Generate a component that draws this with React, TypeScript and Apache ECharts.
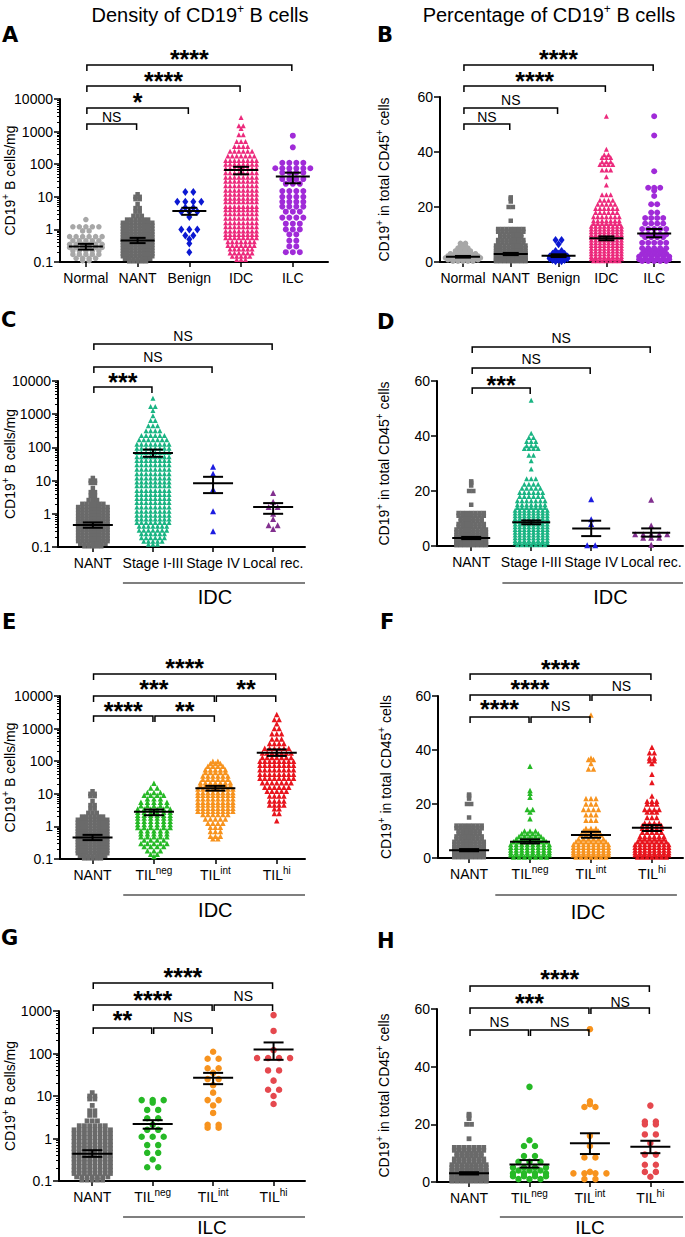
import React, { useEffect, useRef } from "react";
import * as echarts from "echarts";

type Row = [number, number]; // [value, number of dots in that row]

// ---------- categories ----------
const catsTissue = ["Normal", "NANT", "Benign", "IDC", "ILC"];
const catsStage = ["NANT", "Stage I-III", "Stage IV", "Local rec."];
const catsTil = ["NANT", "TIL{s|neg}", "TIL{s|int}", "TIL{s|hi}"];
const pctTicks = [0, 20, 40, 60];

// ---------- density (cells/mg, log) ----------
const normalDensity: Row[] = [[2.0,1],[1.2,5],[0.9,2],[0.6,6],[0.45,5],[0.35,6],[0.28,6],[0.22,5],[0.17,5],[0.13,4],[0.11,2]];
const nantDensity: Row[] = [[12,1],[10,2],[8.5,2],[6,1],[4.5,2],[3.5,2],[2.6,3],[2.0,6],[1.6,8],[1.3,8],[1.05,8],[0.85,8],[0.7,8],[0.58,8],[0.48,8],[0.4,8],[0.33,8],[0.27,8],[0.22,8],[0.18,8],[0.15,8],[0.125,7],[0.105,5]];
const benignDensity: Row[] = [[14,2],[7,4],[4.6,2],[3.5,3],[2.4,1],[1.0,3],[0.65,2],[0.5,1],[0.37,1],[0.2,1]];
const idcDensity: Row[] = [[2700,1],[1500,2],[1250,1],[800,2],[500,3],[350,4],[250,6],[180,7],[130,8],[100,8],[75,8],[55,8],[40,8],[30,8],[22,8],[16,8],[12,8],[9,8],[7,8],[5,8],[4,8],[3,8],[2.2,8],[1.6,8],[1.2,8],[0.9,8],[0.7,8],[0.55,8],[0.42,7],[0.32,7],[0.25,6],[0.19,6],[0.15,5],[0.12,3]];
const ilcDensity: Row[] = [[750,1],[330,1],[110,4],[75,6],[55,4],[35,4],[25,3],[15,4],[10,4],[7,4],[5,4],[3.5,3],[2.3,4],[1.5,3],[1.0,3],[0.7,2],[0.45,2],[0.3,2],[0.2,3]];
const stage13Density: Row[] = [[3000,1],[1700,2],[1300,1],[900,1],[650,2],[450,3],[320,4],[230,6],[170,7],[125,8],[95,8],[70,8],[52,8],[40,8],[30,8],[22,8],[16,8],[12,8],[9,8],[7,8],[5,8],[3.8,8],[2.9,8],[2.2,8],[1.6,8],[1.2,8],[0.9,8],[0.7,8],[0.55,8],[0.42,7],[0.32,7],[0.25,6],[0.19,6],[0.15,5],[0.12,3]];
const stage4Density: Row[] = [[26,1],[16,1],[5.5,1],[1.2,1],[0.3,1]];
const localRecDensity: Row[] = [[4.2,1],[2.3,1],[1.6,2],[1.0,1],[0.7,1],[0.45,2],[0.35,1]];
const tilNegDensityIdc: Row[] = [[21,1],[15,2],[11,3],[9,4],[7,3],[5.5,5],[4.3,5],[3.4,6],[2.7,6],[2.2,6],[1.8,6],[1.45,6],[1.15,6],[0.92,6],[0.74,5],[0.6,5],[0.48,5],[0.38,4],[0.3,5],[0.24,4],[0.18,3],[0.14,2],[0.12,1]];
const tilIntDensityIdc: Row[] = [[100,2],[85,3],[70,4],[55,5],[45,5],[35,6],[28,6],[22,7],[18,7],[14,8],[11,8],[9,8],[7,8],[5.5,8],[4.5,8],[3.6,8],[2.9,8],[2.3,6],[1.7,5],[1.25,4],[0.95,3],[0.7,3],[0.5,3],[0.42,2]];
const tilHiDensityIdc: Row[] = [[2700,1],[1900,2],[1400,1],[1000,2],[700,3],[480,3],[350,4],[250,6],[180,7],[130,7],[100,8],[75,8],[55,8],[40,8],[30,8],[22,7],[16,6],[12,5],[8.5,4],[6,4],[4.5,4],[3.5,2],[2.5,2],[1.5,1]];
const tilNegDensityIlc: Row[] = [[8,3],[7,1],[4.7,2],[3,2],[2.1,1],[1.6,2],[1.1,3],[0.7,2],[0.46,2],[0.32,1],[0.21,2]];
const tilIntDensityIlc: Row[] = [[110,1],[75,2],[45,2],[35,1],[25,2],[18,1],[12,1],[8,2],[6,1],[4,1],[2.1,2],[1.8,2]];
const tilHiDensityIlc: Row[] = [[800,1],[340,1],[120,1],[78,4],[40,2],[23,1],[14,2],[10,1],[6.5,1]];

// ---------- percentage of CD45+ (linear) ----------
const normalPct: Row[] = [[6.8,2],[6,2],[5,3],[4,4],[3,6],[2.2,7],[1.5,8],[0.8,7],[0.3,5]];
const nantPct: Row[] = [[23.5,1],[23,1],[22,1],[20,2],[15,1],[12,7],[11,7],[10,6],[9,6],[8,7],[7,7],[6,8],[5,8],[4,8],[3.2,8],[2.5,8],[1.8,8],[1.2,8],[0.7,8],[0.3,8]];
const benignPct: Row[] = [[8,2],[6.5,1],[4,2],[3,3],[2,4],[1.3,4],[0.7,3],[0.3,2]];
const idcPct: Row[] = [[53,1],[41,1],[39,2],[38,3],[36.5,3],[35.5,4],[33.5,3],[31,1],[28,1],[24.5,3],[22.5,4],[21,5],[19.5,6],[18,6],[16.5,7],[15,7],[14,7],[13,8],[12,8],[11,8],[10,8],[9,8],[8,8],[7,8],[6,8],[5,8],[4,8],[3,8],[2,8],[1.2,8],[0.5,7]];
const ilcPct: Row[] = [[53,1],[46,1],[33,1],[27,3],[26,1],[24,1],[21,2],[18,2],[16,4],[14,4],[12,5],[10,5],[9,4],[7,5],[5,5],[4,4],[3,5],[2,6],[1,6],[0.4,5]];
const stage13Pct: Row[] = [[53,1],[41,1],[39.5,2],[38,3],[36.5,3],[35.5,4],[33,2],[31,1],[28,1],[24.5,3],[22.5,4],[21,5],[19.5,6],[18,6],[16.5,7],[15,7],[14,7],[13,8],[12,8],[11,8],[10,8],[9,8],[8,8],[7,8],[6,8],[5,8],[4,8],[3,8],[2,8],[1.2,8],[0.5,7]];
const stage4Pct: Row[] = [[17,1],[9.7,1],[8,1],[0.3,2]];
const localRecPct: Row[] = [[16.8,1],[7.5,1],[4.3,5],[3,3],[0.5,1]];
const tilNegPctIdc: Row[] = [[34,1],[25,1],[24,1],[22.5,1],[18,2],[17,1],[14.5,1],[10,3],[9,4],[8,5],[7,6],[6,7],[5,8],[4,8],[3,8],[2,8],[1.2,8],[0.4,7]];
const tilIntPctIdc: Row[] = [[53,1],[37,1],[36.5,2],[35,1],[33,2],[22,3],[20,3],[18,4],[16,3],[14,3],[11,3],[10,4],[8.5,5],[7,6],[6,7],[5,8],[4,8],[3,8],[2,8],[1.2,8],[0.4,7]];
const tilHiPctIdc: Row[] = [[41,1],[39,2],[37,2],[36,2],[35,1],[31,1],[28,1],[23,1],[21,3],[20,3],[18,4],[17,3],[15,3],[13,4],[12,5],[11,5],[9.5,5],[8,6],[7,6],[6,7],[5,8],[4,8],[3,8],[2,8],[1.2,8],[0.4,7]];
const tilNegPctIlc: Row[] = [[33,1],[14.5,1],[12.5,2],[9,2],[7,3],[5,4],[4,3],[3,4],[2,4],[1,3]];
const tilIntPctIlc: Row[] = [[53,1],[28,1],[27,1],[26,2],[16,1],[12.5,1],[8.5,2],[3.5,1],[3,4],[1,2]];
const tilHiPctIlc: Row[] = [[26.5,1],[21,2],[20,2],[16.5,2],[13.5,1],[9.5,2],[6,2],[3.5,2],[1.8,1]];

// ---------- means and SEM ranges ----------
const meansA = [0.3, 0.46, 3.7, 66, 42];
const semA: Row[] = [[0.24,0.36],[0.38,0.55],[2.8,4.6],[49,83],[26,55]];
const meansB = [1.9, 2.9, 2.3, 8.6, 10.4];
const semB: Row[] = [[1.6,2.2],[2.5,3.3],[1.8,2.8],[7.9,9.3],[9.0,12.0]];
const meansC = [0.46, 68, 8.3, 1.6];
const semC: Row[] = [[0.38,0.55],[52,86],[4.2,13],[1.0,2.1]];
const meansD = [2.9, 8.6, 6.4, 4.8];
const semD: Row[] = [[2.5,3.3],[7.9,9.3],[3.6,9.2],[3.4,6.4]];
const meansE = [0.46, 2.8, 14.8, 182];
const semE: Row[] = [[0.38,0.55],[2.2,3.3],[12.5,17.5],[145,230]];
const meansF = [2.9, 6.0, 8.5, 11.2];
const semF: Row[] = [[2.5,3.3],[5.4,6.9],[7.5,9.7],[10.0,12.2]];
const meansG = [0.44, 2.2, 27, 125];
const semG: Row[] = [[0.37,0.53],[1.7,2.7],[19,35],[71,182]];
const meansH = [3.0, 6.1, 13.4, 12.2];
const semH: Row[] = [[2.6,3.4],[5.0,7.6],[9.7,16.9],[10.0,14.3]];

// ---------- significance brackets [from, to, label] ----------
type Br = [number, number, string];
const sigA: Br[] = [[0,1,"NS"],[0,2,"*"],[0,3,"****"],[0,4,"****"]];
const sigB: Br[] = [[0,1,"NS"],[0,2,"NS"],[0,3,"****"],[0,4,"****"]];
const sigC: Br[] = [[0,1,"***"],[0,2,"NS"],[0,3,"NS"]];
const sigD: Br[] = [[0,1,"***"],[0,2,"NS"],[0,3,"NS"]];
const sigE: Br[] = [[0,1,"****"],[1,2,"**"],[0,2,"***"],[2,3,"**"],[0,3,"****"]];
const sigF: Br[] = [[0,1,"****"],[1,2,"NS"],[0,2,"****"],[2,3,"NS"],[0,3,"****"]];
const sigG: Br[] = [[0,1,"**"],[1,2,"NS"],[0,2,"****"],[2,3,"NS"],[0,3,"****"]];
const sigH: Br[] = [[0,1,"NS"],[1,2,"NS"],[0,2,"***"],[2,3,"NS"],[0,3,"****"]];

// ---------- styles ----------
const FF = "Liberation Sans, Arial, Helvetica, sans-serif";
const nameDensity = "CD19{s|+} B cells/mg";
const namePct = "CD19{s|+} in total CD45{s|+} cells";

type G = { rows: Row[]; color: string; symbol: string; size: any; gap: number };
const sty = (rows: Row[], color: string, symbol: string, size: any, gap: number): G => ({ rows, color, symbol, size, gap });
const C_NORMAL = "#a7a7a7", C_NANT = "#6a6a6a", C_BENIGN = "#0b18d2", C_IDC = "#ec2a7c", C_ILC = "#a02bd8";
const C_ST13 = "#1ab483", C_ST4 = "#1d1de0", C_LOC = "#82308f";
const C_NEG = "#26b926", C_INT = "#f7931e", C_HI = "#e8151d", C_HI2 = "#e5484e";

const panels: any[] = [
  { letter: "A", lx: 2, ly: 35, L: 60, R: 328, T: 99, B: 262, xMin: -0.5, xMax: 4.68, cats: catsTissue, log: true, yMin: 0.1, yMax: 10000, name: nameDensity, gap: 40, hw: 17, cap: 8,
    groups: [sty(normalDensity, C_NORMAL, "circle", 5.5, 6.5), sty(nantDensity, C_NANT, "rect", 4.5, 4.2), sty(benignDensity, C_BENIGN, "diamond", [6, 8], 8), sty(idcDensity, C_IDC, "triangle", 5, 4.4), sty(ilcDensity, C_ILC, "circle", 6, 7)],
    means: meansA, sems: semA, sig: sigA, sigY: [[124,117],[108,96],[86,75],[65,53]] },
  { letter: "B", lx: 377, ly: 35, L: 440, R: 680, T: 97, B: 262, xMin: -0.48, xMax: 4.54, cats: catsTissue, log: false, yMin: 0, yMax: 60, name: namePct, gap: 46, hw: 17, cap: 8,
    groups: [sty(normalPct, C_NORMAL, "circle", 5.5, 5), sty(nantPct, C_NANT, "rect", 4.5, 4.2), sty(benignPct, C_BENIGN, "diamond", [6, 8], 6), sty(idcPct, C_IDC, "triangle", 5, 4.3), sty(ilcPct, C_ILC, "circle", 6, 6)],
    means: meansB, sems: semB, sig: sigB, sigY: [[124,117],[108,100],[86,75],[65,53]] },
  { letter: "C", lx: 1, ly: 320, L: 58, R: 305, T: 381, B: 547, xMin: -0.58, xMax: 3.53, cats: catsStage, log: true, yMin: 0.1, yMax: 10000, name: nameDensity, gap: 38, hw: 20, cap: 10,
    groups: [sty(nantDensity, C_NANT, "rect", 4.5, 4.2), sty(stage13Density, C_ST13, "triangle", 5, 4.6), sty(stage4Density, C_ST4, "triangle", 6, 8), sty(localRecDensity, C_LOC, "triangle", 6, 9)],
    means: meansC, sems: semC, sig: sigC, sigY: [[387,376],[367,357],[344,336]], grp: "IDC", gFrom: 0.5, gTo: 3.53, gLabel: 2.03, gLineY: 583, gTextY: 597, gSize: 20 },
  { letter: "D", lx: 377, ly: 322, L: 437, R: 683, T: 381, B: 546, xMin: -0.57, xMax: 3.53, cats: catsStage, log: false, yMin: 0, yMax: 60, name: namePct, gap: 43, hw: 19, cap: 10,
    groups: [sty(nantPct, C_NANT, "rect", 4.5, 4.2), sty(stage13Pct, C_ST13, "triangle", 5, 4.6), sty(stage4Pct, C_ST4, "triangle", 6, 8), sty(localRecPct, C_LOC, "triangle", 6, 8)],
    means: meansD, sems: semD, sig: sigD, sigY: [[388,379],[368,359],[347,338]], grp: "IDC", gFrom: 0.52, gTo: 3.53, gLabel: 2.32, gLineY: 583, gTextY: 597, gSize: 20 },
  { letter: "E", lx: 2, ly: 622, L: 60, R: 305, T: 696, B: 859, xMin: -0.53, xMax: 3.46, cats: catsTil, log: true, yMin: 0.1, yMax: 10000, name: nameDensity, gap: 40, hw: 20, cap: 10,
    groups: [sty(nantDensity, C_NANT, "rect", 4.5, 4.2), sty(tilNegDensityIdc, C_NEG, "triangle", 5.5, 6.5), sty(tilIntDensityIdc, C_INT, "triangle", 5.5, 5), sty(tilHiDensityIdc, C_HI, "triangle", 5.5, 4.8)],
    means: meansE, sems: semE, sig: sigE, sigY: [[716,705],[716,705],[696,683],[696,683],[674,662]], grp: "IDC", gFrom: 0.5, gTo: 3.46, gLabel: 2.0, gLineY: 895, gTextY: 910, gSize: 20 },
  { letter: "F", lx: 380, ly: 622, L: 438, R: 683, T: 696, B: 858, xMin: -0.51, xMax: 3.51, cats: catsTil, log: false, yMin: 0, yMax: 60, name: namePct, gap: 42, hw: 20, cap: 10,
    groups: [sty(nantPct, C_NANT, "rect", 4.5, 4.2), sty(tilNegPctIdc, C_NEG, "triangle", 5.5, 5.5), sty(tilIntPctIdc, C_INT, "triangle", 5.5, 5), sty(tilHiPctIdc, C_HI, "triangle", 5.5, 4.8)],
    means: meansF, sems: semF, sig: sigF, sigY: [[717,703],[717,706],[695,683],[695,686],[674,663]], grp: "IDC", gFrom: 0.43, gTo: 3.41, gLabel: 1.95, gLineY: 895, gTextY: 912, gSize: 20 },
  { letter: "G", lx: 1, ly: 938, L: 59, R: 305, T: 1011, B: 1181, xMin: -0.55, xMax: 3.52, cats: catsTil, log: true, yMin: 0.1, yMax: 1000, name: nameDensity, gap: 39, hw: 20, cap: 10,
    groups: [sty(nantDensity, C_NANT, "rect", 4.8, 5.2), sty(tilNegDensityIlc, C_NEG, "circle", 6.5, 11), sty(tilIntDensityIlc, C_INT, "circle", 6.5, 11), sty(tilHiDensityIlc, C_HI2, "circle", 6.5, 11)],
    means: meansG, sems: semG, sig: sigG, sigY: [[1028,1014],[1028,1017],[1005,994],[1005,996],[983,971]], grp: "ILC", gFrom: 0.51, gTo: 3.52, gLabel: 1.98, gLineY: 1217, gTextY: 1227, gSize: 19 },
  { letter: "H", lx: 377, ly: 941, L: 437, R: 683, T: 1009, B: 1182, xMin: -0.53, xMax: 3.54, cats: catsTil, log: false, yMin: 0, yMax: 60, name: namePct, gap: 43, hw: 20, cap: 10,
    groups: [sty(nantPct, C_NANT, "rect", 4.8, 4.9), sty(tilNegPctIlc, C_NEG, "circle", 6.5, 11), sty(tilIntPctIlc, C_INT, "circle", 6.5, 11), sty(tilHiPctIlc, C_HI2, "circle", 6.5, 11)],
    means: meansH, sems: semH, sig: sigH, sigY: [[1030,1022],[1030,1022],[1008,997],[1008,1002],[986,973]], grp: "ILC", gFrom: 0.51, gTo: 3.54, gLabel: 2.0, gLineY: 1217, gTextY: 1227, gSize: 19 },
];

function swarm(rows: Row[], center: number, step: number): number[][] {
  const out: number[][] = [];
  rows.forEach(([v, n]) => {
    for (let j = 0; j < n; j++) out.push([center + (j - (n - 1) / 2) * step, v]);
  });
  return out;
}

const supRich = (size: number) => ({ s: { fontSize: size, fontFamily: FF, color: "#000", verticalAlign: "top", lineHeight: 10 } });

function buildOption() {
  const grid: any[] = [], xAxis: any[] = [], yAxis: any[] = [], series: any[] = [], graphic: any[] = [];
  const axisLine = { show: true, onZero: false, lineStyle: { color: "#000", width: 2 } };
  panels.forEach((p, i) => {
    const pxPerUnit = (p.R - p.L) / (p.xMax - p.xMin);
    grid.push({ left: p.L, top: p.T, width: p.R - p.L, height: p.B - p.T, containLabel: false, outerBoundsMode: "none" });
    const idx = p.cats.map((_: any, k: number) => k);
    xAxis.push({
      type: "value", gridIndex: i, min: p.xMin, max: p.xMax, axisLine,
      axisTick: { show: true, customValues: idx, length: 5, lineStyle: { color: "#000", width: 1.5 } },
      axisLabel: { customValues: idx, formatter: (v: number) => p.cats[Math.round(v)] ?? "", color: "#000", fontSize: 14, fontFamily: FF, lineHeight: 20, margin: 6, rich: supRich(10) },
      splitLine: { show: false },
    });
    const yBase: any = {
      gridIndex: i, min: p.yMin, max: p.yMax, axisLine,
      axisTick: { show: true, length: 6, lineStyle: { color: "#000", width: 1.5 } },
      axisLabel: { color: "#000", fontSize: 14, fontFamily: FF, margin: 7 },
      splitLine: { show: false },
      name: p.name, nameLocation: "middle", nameRotate: 90, nameGap: p.gap, nameMoveOverlap: false,
      nameTextStyle: { color: "#000", fontSize: 14, fontFamily: FF, lineHeight: 20, rich: supRich(10) },
    };
    if (p.log) {
      yAxis.push({ ...yBase, type: "log", logBase: 10,
        minorTick: { show: true, splitNumber: 9, length: 3, lineStyle: { color: "#000", width: 1 } },
        minorSplitLine: { show: false },
        axisLabel: { ...yBase.axisLabel, formatter: (v: number) => (v >= 1 ? String(Math.round(v)) : String(Math.round(v * 10) / 10)) } });
    } else {
      yAxis.push({ ...yBase, type: "value", interval: pctTicks[1] - pctTicks[0], min: pctTicks[0], max: pctTicks[pctTicks.length - 1] });
    }
    p.groups.forEach((g: G, k: number) => {
      series.push({
        type: "scatter", xAxisIndex: i, yAxisIndex: i, silent: true, z: 2,
        data: swarm(g.rows, k, g.gap / pxPerUnit),
        symbol: g.symbol, symbolSize: g.size, itemStyle: { color: g.color, opacity: 1 },
      });
    });
    const hw = p.hw, cap = p.cap;
    series.push({
      type: "custom", xAxisIndex: i, yAxisIndex: i, silent: true, clip: false, z: 5,
      data: p.means.map((m: number, k: number) => [k, m, p.sems[k][0], p.sems[k][1]]),
      encode: { x: 0, y: [1, 2, 3] },
      renderItem: (_params: any, api: any) => {
        const x = api.value(0);
        const pm = api.coord([x, api.value(1)]);
        const pl = api.coord([x, api.value(2)]);
        const ph = api.coord([x, api.value(3)]);
        const st = { stroke: "#000", lineWidth: 2 };
        return { type: "group", children: [
          { type: "line", shape: { x1: pm[0] - hw, y1: pm[1], x2: pm[0] + hw, y2: pm[1] }, style: st },
          { type: "line", shape: { x1: pl[0], y1: pl[1], x2: ph[0], y2: ph[1] }, style: st },
          { type: "line", shape: { x1: pl[0] - cap, y1: pl[1], x2: pl[0] + cap, y2: pl[1] }, style: st },
          { type: "line", shape: { x1: ph[0] - cap, y1: ph[1], x2: ph[0] + cap, y2: ph[1] }, style: st },
        ] };
      },
    });
    series.push({
      type: "custom", xAxisIndex: i, yAxisIndex: i, silent: true, clip: false, z: 6,
      data: p.sig.map((b: Br) => [b[0], b[1], p.log ? p.yMin : p.yMax]),
      encode: { x: [0, 1], y: 2 },
      renderItem: (params: any, api: any) => {
        const b: Br = p.sig[params.dataIndex];
        const [ly, ty] = p.sigY[params.dataIndex];
        const yv = api.value(2);
        const x1 = api.coord([api.value(0), yv])[0] + 1;
        const x2 = api.coord([api.value(1), yv])[0] - 1;
        const star = b[2] !== "NS";
        return { type: "group", children: [
          { type: "polyline", shape: { points: [[x1, ly + 6], [x1, ly], [x2, ly], [x2, ly + 6]] }, style: { stroke: "#000", lineWidth: 1.5, fill: "none" } },
          { type: "text", style: { text: b[2], x: (x1 + x2) / 2, y: star ? ty + 6 : ty, fill: "#000", fontSize: star ? 25 : 14, fontWeight: star ? "bold" : "normal", fontFamily: FF, align: "center", verticalAlign: "middle", textAlign: "center", textVerticalAlign: "middle" } },
        ] };
      },
    });
    if (p.grp) {
      series.push({
        type: "custom", xAxisIndex: i, yAxisIndex: i, silent: true, clip: false, z: 6,
        data: [[p.gFrom, p.gTo, p.gLabel, p.log ? p.yMin : p.yMax]],
        encode: { x: [0, 1, 2], y: 3 },
        renderItem: (_params: any, api: any) => {
          const yv = api.value(3);
          const a = api.coord([api.value(0), yv])[0];
          const c = api.coord([api.value(1), yv])[0];
          const m = api.coord([api.value(2), yv])[0];
          return { type: "group", children: [
            { type: "line", shape: { x1: a, y1: p.gLineY, x2: c, y2: p.gLineY }, style: { stroke: "#000", lineWidth: 1.2 } },
            { type: "text", style: { text: p.grp, x: m, y: p.gTextY, fill: "#000", fontSize: p.gSize, fontFamily: FF, align: "center", verticalAlign: "middle", textAlign: "center", textVerticalAlign: "middle" } },
          ] };
        },
      });
    }
    graphic.push({ type: "text", x: p.lx, y: p.ly, style: { text: p.letter, fill: "#000", fontSize: 21, fontWeight: "bold", fontFamily: "DejaVu Sans, " + FF, align: "left", verticalAlign: "middle" } });
  });
  const titleRich = { s: { fontSize: 12, fontFamily: FF, fill: "#000", verticalAlign: "top", lineHeight: 10 } };
  graphic.push({ type: "text", x: 200, y: 15, style: { text: "Density of CD19{s|+} B cells", fill: "#000", fontSize: 20, fontFamily: FF, lineHeight: 24, align: "center", verticalAlign: "middle", rich: titleRich } });
  graphic.push({ type: "text", x: 549, y: 15, style: { text: "Percentage of CD19{s|+} B cells", fill: "#000", fontSize: 20, fontFamily: FF, lineHeight: 24, align: "center", verticalAlign: "middle", rich: titleRich } });
  return { animation: false, backgroundColor: "#fff", grid, xAxis, yAxis, series, graphic };
}

export default function App() {
  const ref = useRef<HTMLDivElement>(null);
  useEffect(() => {
    document.body.style.margin = "0";
    const chart = echarts.init(ref.current!, null, { renderer: "svg", width: 685, height: 1237 });
    chart.setOption(buildOption() as any);
    return () => chart.dispose();
  }, []);
  return <div ref={ref} style={{ width: 685, height: 1237 }} />;
}
